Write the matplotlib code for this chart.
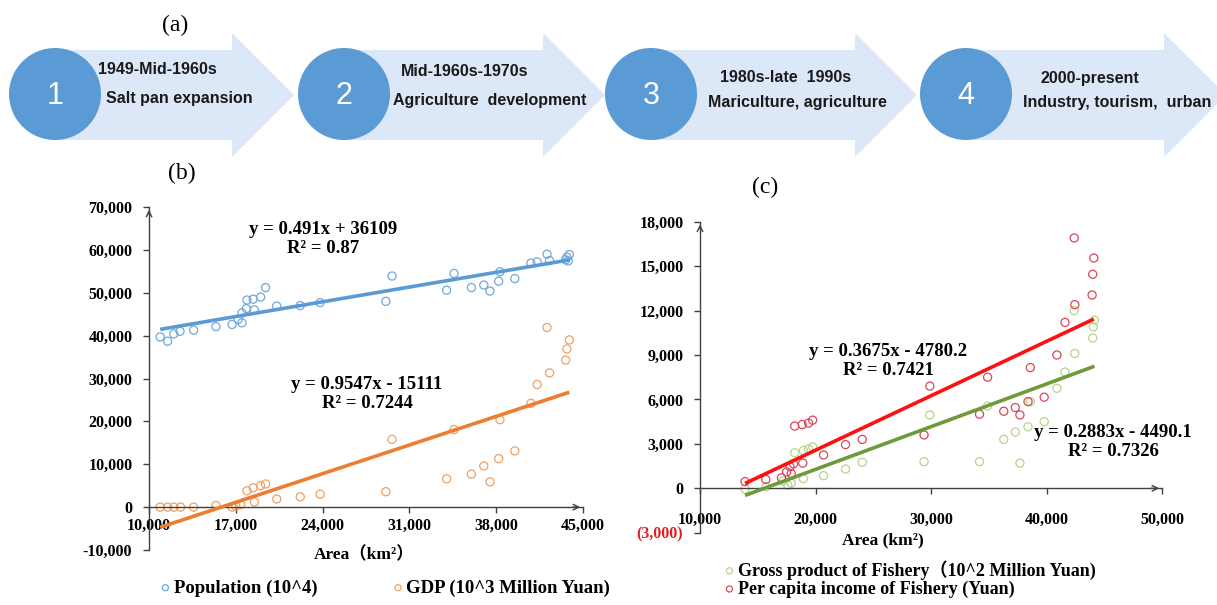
import matplotlib
matplotlib.use("Agg")
import matplotlib.pyplot as plt
from matplotlib.patches import Polygon, Circle

# ---- panel (a): stages ----
stage_num = ["1", "2", "3", "4"]
stage_period = ["1949-Mid-1960s", "Mid-1960s-1970s", "1980s-late  1990s", "2000-present"]
stage_desc = ["Salt pan expansion", "Agriculture  development", "Mariculture, agriculture", "Industry, tourism,  urban"]

# ---- panel (b) ----
pop_area = [10900, 11500, 12000, 12500, 13600, 15400, 16700, 17200, 17500, 17500, 17900, 17850,
            18400, 18500, 19000, 19400, 20300, 22200, 23800, 29100, 29600, 34000, 34600, 36000,
            37000, 37500, 38200, 38300, 39500, 40800, 41300, 42100, 42300, 43600, 43700, 43900, 43800]
pop_val = [39700, 38700, 40400, 41000, 41300, 42100, 42600, 43800, 43000, 45300, 48300, 46300,
           48500, 46000, 49000, 51200, 46900, 47000, 47700, 48000, 53900, 50600, 54500, 51200,
           51800, 50400, 52700, 54900, 53300, 56900, 57200, 59000, 57500, 57700, 58300, 58900, 57400]
gdp_area = [10900, 11500, 12000, 12550, 13600, 15400, 16700, 17000, 17400, 17900, 18500, 18400,
            19000, 19400, 20300, 22200, 23800, 29100, 29600, 34000, 34600, 36000, 37000, 37500,
            38200, 38300, 39500, 40800, 41300, 42100, 42300, 43600, 43700, 43900]
gdp_val = [0, 0, 0, 0, 0, 400, 0, 200, 600, 3800, 1200, 4500,
           5000, 5400, 1900, 2400, 3000, 3600, 15800, 6600, 18100, 7700, 9600, 5900,
           11300, 20400, 13100, 24200, 28600, 41900, 31300, 34300, 36900, 39000]
pop_fit = (0.491, 36109)
gdp_fit = (0.9547, -15111)
pop_eq = "y = 0.491x + 36109\nR² = 0.87"
gdp_eq = "y = 0.9547x - 15111\nR² = 0.7244"
b_xticks = [10000, 17000, 24000, 31000, 38000, 45000]
b_yticks = [-10000, 0, 10000, 20000, 30000, 40000, 50000, 60000, 70000]
b_yticklabels = ["-10,000", "0", "10,000", "20,000", "30,000", "40,000", "50,000", "60,000", "70,000"]

# ---- panel (c) ----
inc_area = [13900, 15700, 17050, 17500, 17800, 17900, 18100, 18200, 18850, 19400, 19750, 18900,
            20700, 22600, 24050, 29400, 29900, 34200, 34900, 36300, 37300, 37700, 38400, 38600,
            39800, 40900, 41600, 42400, 42450, 43950, 44000, 44100]
inc_val = [450, 600, 700, 1100, 1450, 1000, 1650, 4200, 4300, 4400, 4600, 1700,
           2250, 2950, 3300, 3600, 6900, 5000, 7500, 5200, 5450, 4950, 5850, 8150,
           6150, 9000, 11200, 16900, 12400, 13050, 14450, 15550]
gp_area = [13900, 15700, 17200, 17600, 17900, 18200, 18950, 18950, 19400, 19750, 20700, 22600,
           24050, 29400, 29900, 34200, 34900, 36300, 37300, 37700, 38400, 38600, 39800, 40900,
           41600, 42450, 42400, 44000, 44050, 44150]
gp_val = [-50, 100, 500, 200, 350, 2400, 650, 2550, 2650, 2800, 850, 1300,
          1750, 1800, 4950, 1800, 5550, 3300, 3800, 1700, 4150, 5850, 4500, 6750,
          7850, 9100, 12000, 10150, 10900, 11350]
inc_fit = (0.3675, -4780.2)
gp_fit = (0.2883, -4490.1)
inc_eq = "y = 0.3675x - 4780.2\nR² = 0.7421"
gp_eq = "y = 0.2883x - 4490.1\nR² = 0.7326"
c_xticks = [10000, 20000, 30000, 40000, 50000]
c_yticks = [-3000, 0, 3000, 6000, 9000, 12000, 15000, 18000]
c_yticklabels = ["(3,000)", "0", "3,000", "6,000", "9,000", "12,000", "15,000", "18,000"]

W, H = 1217, 605
plt.rcParams['font.family'] = ['Liberation Serif', 'Noto Sans CJK SC', 'DejaVu Sans']
plt.rcParams['font.weight'] = 'bold'

fig = plt.figure(figsize=(W / 100, H / 100), dpi=100)


def fx(x):
    return x / W


def fy(y):
    return 1 - y / H


# banner in pixel coordinates
ax0 = fig.add_axes([0, 0, 1, 1])
ax0.set_xlim(0, W)
ax0.set_ylim(H, 0)
ax0.axis('off')

circle_x = [55, 344, 651, 966]
head_start = [232, 543, 855, 1164]
text_y = [(70, 99), (72, 100), (78, 103), (78, 103)]
text_x = [(98, 106), (465, 490), (786, 797), (1090, 1117)]
sans = ['Liberation Sans Narrow', 'Liberation Sans']
for i in range(4):
    cx = circle_x[i]
    hs = head_start[i]
    pts = [(cx, 50), (hs, 50), (hs, 33), (hs + 62, 95), (hs, 157), (hs, 140), (cx, 140)]
    ax0.add_patch(Polygon(pts, closed=True, facecolor='#dce7f7', edgecolor='none'))
for i in range(4):
    cx = circle_x[i]
    ax0.add_patch(Circle((cx, 94), 46, facecolor='#5b9bd5', edgecolor='none'))
    ax0.text(cx, 96, stage_num[i], color='white', fontsize=22, ha='center', va='center',
             family=sans, fontweight='normal')
    ha = 'left' if i == 0 else 'center'
    ax0.text(text_x[i][0], text_y[i][0], stage_period[i], fontsize=11.5, ha=ha, va='center',
             family=sans, fontweight='bold', color='#1a1a1a')
    ax0.text(text_x[i][1], text_y[i][1], stage_desc[i], fontsize=11.5, ha=ha, va='center',
             family=sans, fontweight='bold', color='#1a1a1a')

fig.text(fx(175), fy(25), "(a)", fontsize=17, fontweight='normal', ha='center', va='center')
fig.text(fx(182), fy(173), "(b)", fontsize=17, fontweight='normal', ha='center', va='center')
fig.text(fx(765), fy(187), "(c)", fontsize=17, fontweight='normal', ha='center', va='center')


def style_axes(ax, xmin, xmax, ymin, ymax):
    ax.patch.set_alpha(0)
    for s in ['top', 'right']:
        ax.spines[s].set_visible(False)
    ax.spines['bottom'].set_position(('data', 0))
    for s in ['left', 'bottom']:
        ax.spines[s].set_color('#404040')
        ax.spines[s].set_linewidth(1)
    ax.set_xlim(xmin, xmax)
    ax.set_ylim(ymin, ymax)
    ax.tick_params(axis='y', direction='out', length=4, width=1, color='#404040', pad=8, labelsize=11.5)
    ax.tick_params(axis='x', direction='out', length=4, width=1, color='#404040', labelsize=11.5)
    ax.annotate('', xy=(xmin, ymax), xytext=(xmin, ymax - (ymax - ymin) * 0.03),
                arrowprops=dict(arrowstyle='->', color='#404040', lw=1), annotation_clip=False)
    ax.annotate('', xy=(xmax, 0), xytext=(xmax - (xmax - xmin) * 0.03, 0),
                arrowprops=dict(arrowstyle='->', color='#404040', lw=1), annotation_clip=False)


# ---- panel (b) ----
axb = fig.add_axes([fx(149), fy(550), fx(583 - 149), (550 - 207) / H])
style_axes(axb, 10000, 45000, -10000, 70000)
axb.scatter(pop_area, pop_val, s=34, facecolors='none', edgecolors='#6fa8dc', linewidths=0.9,
            label="Population (10^4)", zorder=2)
axb.scatter(gdp_area, gdp_val, s=34, facecolors='none', edgecolors='#f0a060', linewidths=0.9,
            label="GDP (10^3 Million Yuan)", zorder=2)
for xs, fit, col in [(pop_area, pop_fit, '#5b9bd5'), (gdp_area, gdp_fit, '#ed7d31')]:
    x0, x1 = min(xs), max(xs)
    axb.plot([x0, x1], [fit[0] * x0 + fit[1], fit[0] * x1 + fit[1]], color=col, lw=2.6, zorder=3,
             solid_capstyle='butt')
axb.set_xticks(b_xticks)
axb.set_xticklabels([f"{v:,}" for v in b_xticks])
axb.set_yticks(b_yticks)
axb.set_yticklabels(b_yticklabels)
fig.text(fx(323), fy(239), pop_eq, fontsize=13.5, ha='center', va='center', linespacing=1.1)
fig.text(fx(367), fy(394), gdp_eq, fontsize=13.5, ha='center', va='center', linespacing=1.1)
fig.text(fx(364), fy(555), "Area（km²）", fontsize=12.5, ha='center', va='center')
axb.legend(loc='center', bbox_to_anchor=(fx(385), fy(588)), bbox_transform=fig.transFigure,
           ncol=2, frameon=False, fontsize=13.5, handlelength=0.6, handletextpad=0.15,
           columnspacing=4.0, markerscale=0.75, borderaxespad=0, borderpad=0)

# ---- panel (c) ----
axc = fig.add_axes([fx(700), fy(532.7), fx(462), (532.7 - 221.7) / H])
style_axes(axc, 10000, 50000, -3000, 18000)
axc.tick_params(axis='x', pad=13)
axc.scatter(gp_area, gp_val, s=34, facecolors='none', edgecolors='#b5d48c', linewidths=0.9,
            label="Gross product of Fishery（10^2 Million Yuan)", zorder=2)
axc.scatter(inc_area, inc_val, s=34, facecolors='none', edgecolors='#d9485a', linewidths=0.9,
            label="Per capita income of Fishery (Yuan)", zorder=2)
for xs, fit, col in [(inc_area, inc_fit, '#ff1010'), (gp_area, gp_fit, '#6e9a3c')]:
    x0, x1 = min(xs), max(xs)
    axc.plot([x0, x1], [fit[0] * x0 + fit[1], fit[0] * x1 + fit[1]], color=col, lw=2.6, zorder=3,
             solid_capstyle='butt')
axc.set_xticks(c_xticks)
axc.set_xticklabels([f"{v:,}" for v in c_xticks])
axc.set_yticks(c_yticks)
axc.set_yticklabels(c_yticklabels)
axc.get_yticklabels()[0].set_color('#e02020')
fig.text(fx(888), fy(361), inc_eq, fontsize=13.5, ha='center', va='center', linespacing=1.1)
fig.text(fx(1113), fy(442), gp_eq, fontsize=13.5, ha='center', va='center', linespacing=1.1)
fig.text(fx(883), fy(540), "Area (km²)", fontsize=12.5, ha='center', va='center')
axc.legend(loc='upper left', bbox_to_anchor=(fx(724), fy(560)), bbox_transform=fig.transFigure,
           ncol=1, frameon=False, fontsize=13, handlelength=0.6, handletextpad=0.15,
           labelspacing=0.05, markerscale=0.75, borderaxespad=0, borderpad=0)

fig.savefig("out.png", dpi=100)
